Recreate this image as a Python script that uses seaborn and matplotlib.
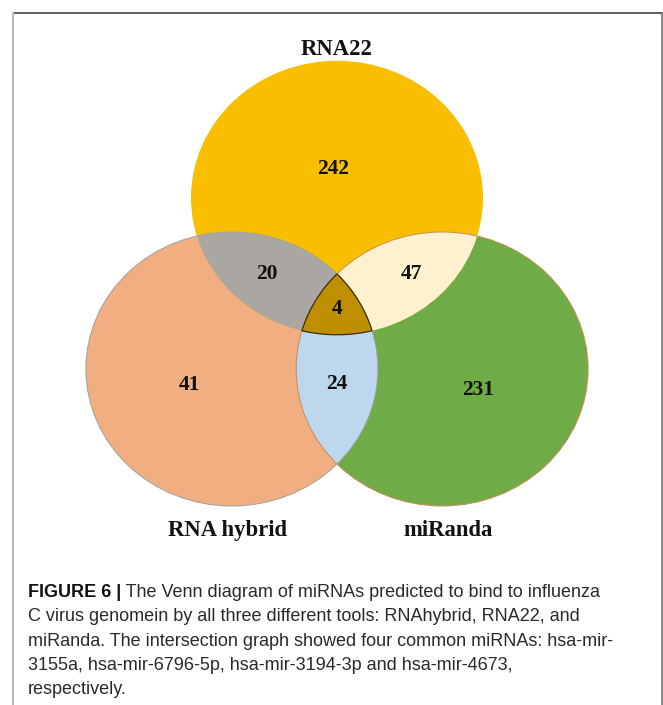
import numpy as np
import matplotlib
matplotlib.use('Agg')
import matplotlib.pyplot as plt
from matplotlib.patches import Circle, Polygon
import seaborn as sns

# Data
SET_NAMES = ['RNA hybrid', 'RNA22', 'miRanda']
SET_COLORS = ['#F1AF81', '#FABE00', '#6FAB46']
REGIONS = ['100', '010', '001', '110', '011', '101', '111']
COUNTS = [41, 242, 231, 20, 47, 24, 4]
OVERLAP_COLORS = {'110': '#AAA7A3', '011': '#FEF1CF', '101': '#BDD7EE', '111': '#BF8F00'}

CAPTION_BOLD = 'FIGURE 6 |'
CAPTION_LINES = [' The Venn diagram of miRNAs predicted to bind to influenza',
                 'C virus genomein by all three different tools: RNAhybrid, RNA22, and',
                 'miRanda. The intersection graph showed four common miRNAs: hsa-mir-',
                 '3155a, hsa-mir-6796-5p, hsa-mir-3194-3p and hsa-mir-4673,',
                 'respectively.']

# Layout (unit circles, axes stretched so they come out slightly wide)
CENTERS = [(-0.72, 0.0), (0.0, 1.25), (0.72, 0.0)]
COUNT_POS = {'100': (-1.01, -0.12), '010': (-0.03, 1.46), '001': (0.97, -0.15),
             '110': (-0.48, 0.69), '011': (0.51, 0.69), '101': (0.0, -0.11), '111': (0.0, 0.44)}
NAME_POS = [(-0.75, -1.18), (0.0, 2.33), (0.76, -1.18)]

sns.set_theme(style='white')
serif = ['Liberation Serif', 'DejaVu Serif']
cap_font = ['Liberation Sans', 'DejaVu Sans']

W, H = 663, 705
fig = plt.figure(figsize=(W / 100, H / 100), dpi=100)
fig.patch.set_facecolor('white')

# venn axes
ax = fig.add_axes([0, 0, 1, 1])
ax.set_xlim(-337 / 146, (W - 337) / 146)
ax.set_ylim((369 - H) / 137, 369 / 137)
ax.axis('off')


def inside(pt, c):
    return (pt[0] - c[0]) ** 2 + (pt[1] - c[1]) ** 2 <= 1.0 + 1e-9


circ = {}
for i in [0, 2, 1]:
    c = Circle(CENTERS[i], 1.0, fc=SET_COLORS[i], ec='none', zorder=1)
    ax.add_patch(c)
    circ[i] = c

# pairwise overlaps via clipping
for key, (a, b) in {'110': (0, 1), '011': (2, 1), '101': (2, 0)}.items():
    p = Circle(CENTERS[a], 1.0, fc=OVERLAP_COLORS[key], ec='none', zorder=2)
    ax.add_patch(p)
    p.set_clip_path(circ[b])

# triple overlap polygon
t = np.linspace(0, 2 * np.pi, 1441)
pts = []
for i, c in enumerate(CENTERS):
    ring = np.column_stack([c[0] + np.cos(t), c[1] + np.sin(t)])
    others = [CENTERS[j] for j in range(3) if j != i]
    for pt in ring:
        if all(inside(pt, o) for o in others):
            pts.append(pt)
pts = np.array(pts)
mid = pts.mean(axis=0)
pts = pts[np.argsort(np.arctan2(pts[:, 1] - mid[1], pts[:, 0] - mid[0]))]
ax.add_patch(Polygon(pts, closed=True, fc=OVERLAP_COLORS['111'], ec='#3a2e10', lw=0.9, zorder=3))

# outlines
ax.add_patch(Circle(CENTERS[0], 1.0, fc='none', ec='#a0a0a0', lw=0.7, zorder=2.5))
ax.add_patch(Circle(CENTERS[2], 1.0, fc='none', ec='#c98e55', lw=0.7, zorder=2.5))

for key, n in zip(REGIONS, COUNTS):
    x, y = COUNT_POS[key]
    ax.text(x, y, str(n), ha='center', va='center', fontsize=15.5, fontweight='bold',
            family=serif, color='#111111', zorder=5)
for name, (x, y) in zip(SET_NAMES, NAME_POS):
    ax.text(x, y, name, ha='center', va='center', fontsize=16.3, fontweight='bold',
            family=serif, color='#111111', zorder=5)

# page axes: frame + caption in pixel coordinates
pg = fig.add_axes([0, 0, 1, 1], facecolor='none')
pg.set_xlim(0, W)
pg.set_ylim(H, 0)
pg.axis('off')
pg.plot([12, 662], [12.5, 12.5], color='#333333', lw=1.1, solid_capstyle='butt')
pg.plot([12.5, 12.5], [12, H], color='#bbbbbb', lw=1.5, solid_capstyle='butt')
pg.plot([662, 662], [12, H], color='#666666', lw=1.1, solid_capstyle='butt')

baselines = [597, 621, 645.5, 670, 694]
cap_size = 13.0
bold = pg.text(28, baselines[0], CAPTION_BOLD, fontsize=cap_size, fontweight='bold',
               family=cap_font, color='#111111', va='baseline', ha='left')
pg.annotate(CAPTION_LINES[0], xy=(1, 0), xycoords=bold, va='bottom', ha='left',
            fontsize=cap_size, family=cap_font, color='#2a2a2a')
for line, yb in zip(CAPTION_LINES[1:], baselines[1:]):
    pg.text(28, yb, line, fontsize=cap_size, family=cap_font, color='#2a2a2a',
            va='baseline', ha='left')

fig.savefig('out.png', dpi=100)
